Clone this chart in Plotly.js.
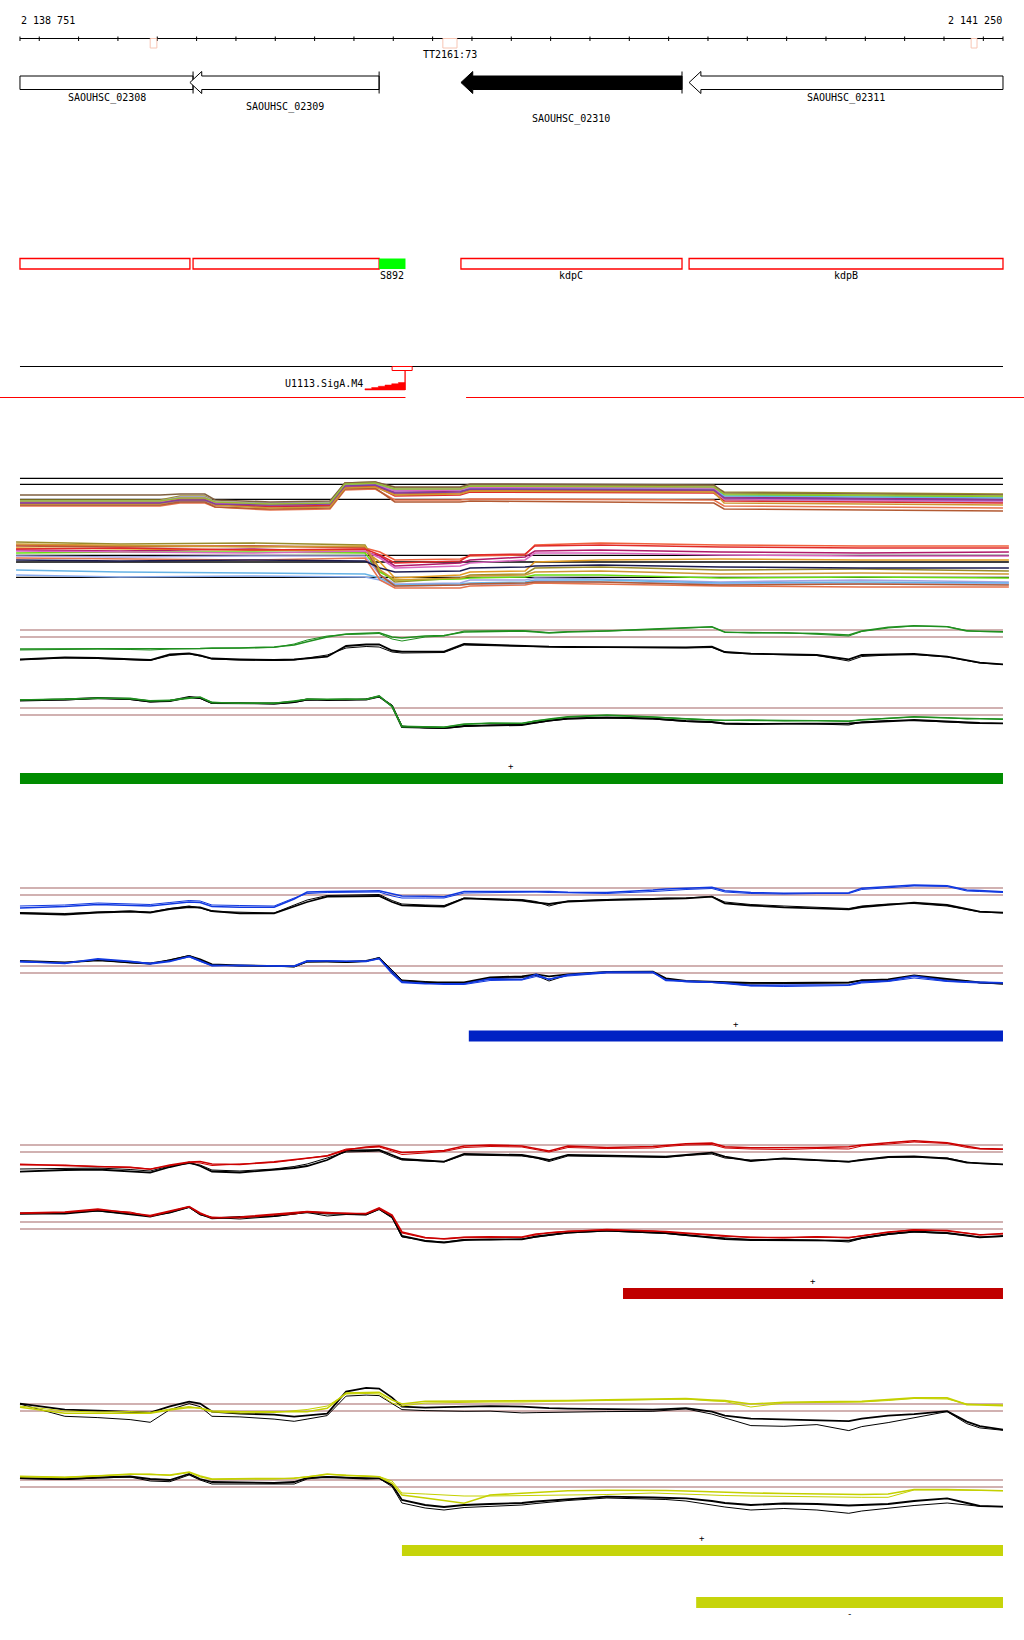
<!DOCTYPE html>
<html><head><meta charset="utf-8">
<script src="https://cdn.plot.ly/plotly-3.0.1.min.js"></script>
<style>html,body{margin:0;padding:0;background:#fff}#chart{width:1024px;height:1640px}</style>
</head><body><div id="chart"></div>
<script>
// ---------------- DATA ----------------
const viewStart = 2138751, viewEnd = 2141250;
const geneNames = ['SAOUHSC_02308','SAOUHSC_02309','SAOUHSC_02310','SAOUHSC_02311'];
const geneStart = [2138620, 2139183, 2139872, 2140452];
const geneEnd   = [2139191, 2139664, 2140434, 2141420];
const geneSelected = [false, false, true, false];
const termStart = [2139082, 2139826, 2141169];
const termEnd   = [2139099, 2139862, 2141184];
const termNames = ['', 'TT2161:73', ''];
const featNames = ['', '', 'S892', 'kdpC', 'kdpB'];
const featStart = [2138751, 2139191, 2139664, 2139872, 2140452];
const featEnd   = [2139183, 2139664, 2139731, 2140434, 2141250];
const featKind  = ['cds', 'cds', 'srna', 'cds', 'cds'];
const promoterName = 'U1113.SigA.M4';
const promoterStart = 2139628, promoterTss = 2139730, promoterBoxStart = 2139697, promoterBoxEnd = 2139748;
const transcriptStart = [2138600, 2139885];
const transcriptEnd   = [2139731, 2141400];

// expression cloud (all conditions), values in log2 units
const upperKnots = [2138751,2139107,2139158,2139221,2139247,2139387,2139539,2139577,2139654,2139704,2139870,2139895,2140515,2140541,2141250];
const upperCloud = [
 [2.0,2.0,2.4,2.4,1.8,1.6,1.7,3.7,3.8,3.2,3.2,3.5,3.4,2.8,2.6],
 [1.7,1.7,2.0,2.0,1.6,1.4,1.5,3.3,3.4,2.6,2.7,3.0,2.9,2.2,2.0],
 [1.8,1.8,2.1,2.1,1.7,1.5,1.6,3.5,3.6,3.0,3.0,3.3,3.2,2.5,2.3],
 [1.6,1.6,1.9,1.9,1.5,1.3,1.4,3.2,3.3,2.8,2.9,3.1,3.0,2.3,2.1],
 [1.5,1.5,1.8,1.8,1.7,1.6,1.7,3.4,3.5,2.9,3.0,3.2,3.1,2.4,2.2],
 [1.9,1.9,2.3,2.3,1.8,1.7,1.8,3.6,3.7,3.1,3.1,3.4,3.3,2.0,1.8],
 [1.4,1.4,1.7,1.7,1.3,1.0,1.1,3.0,3.1,2.0,2.0,2.1,2.0,1.4,1.2],
 [1.5,1.5,1.8,1.8,1.3,1.1,1.2,3.1,3.2,1.8,1.8,1.9,1.7,1.1,0.9],
 [1.7,1.7,2.1,2.1,1.6,1.4,1.5,3.3,3.4,2.4,2.5,2.8,2.7,1.9,1.7],
 [1.8,1.8,2.2,2.2,1.7,1.5,1.6,3.4,3.5,2.9,3.0,3.3,3.2,2.1,1.9],
 [2.5,2.5,2.6,2.6,2.0,1.8,1.9,3.7,3.8,3.3,3.3,3.6,3.5,2.7,2.5],
 [1.6,1.6,2.0,2.0,1.5,1.2,1.3,3.2,3.3,2.5,2.6,2.9,2.8,1.7,1.5],
 [1.7,1.7,2.0,2.0,1.6,1.5,1.6,3.4,3.5,2.7,2.8,3.1,3.0,2.2,2.0],
 [1.9,1.9,2.2,2.2,1.8,1.6,1.7,3.6,3.7,3.1,3.1,3.4,3.3,2.6,2.4]
];
const upperCloudRefs = [4.17, 3.57, 2.07];
const lowerKnots = [2138741,2139005,2139336,2139628,2139666,2139704,2139870,2139895,2140035,2140060,2140226,2140531,2140886,2141265];
const lowerCloud = [
 [5.5,5.4,5.4,5.2,4.8,4.0,4.1,4.4,4.5,5.5,5.7,5.5,5.4,5.4],
 [5.0,4.9,5.1,4.8,4.4,3.4,3.7,4.0,4.3,4.9,5.0,4.8,4.7,4.8],
 [5.2,5.1,5.0,4.9,3.8,2.2,2.5,2.8,2.9,3.8,4.0,4.1,4.0,4.0],
 [5.8,5.6,5.7,5.5,3.0,1.8,2.2,2.5,2.6,3.2,3.3,3.0,3.1,2.9],
 [4.7,4.8,4.8,4.7,2.8,2.0,2.1,2.2,2.3,2.5,2.5,2.2,2.3,2.2],
 [4.4,4.3,4.4,4.4,2.5,1.6,1.7,2.0,2.0,2.2,2.1,1.8,2.0,1.8],
 [3.0,2.8,2.7,2.6,2.2,1.5,1.6,1.7,1.8,2.0,2.0,1.7,1.8,1.7],
 [2.5,2.3,2.4,2.3,2.0,1.4,1.5,1.6,1.6,1.9,1.8,1.6,1.6,1.6],
 [4.2,4.1,4.0,4.2,2.0,1.2,1.2,1.4,1.5,1.7,1.6,1.4,1.3,1.3],
 [5.4,5.3,5.4,5.3,2.5,1.4,1.5,1.6,1.7,1.8,1.8,1.5,1.6,1.5],
 [4.9,4.8,4.7,4.9,4.2,3.2,3.4,3.7,4.0,4.7,4.7,4.5,4.4,4.4],
 [4.0,3.9,4.0,3.9,3.2,2.8,2.9,3.2,3.3,3.4,3.5,3.3,3.2,3.2],
 [5.6,5.5,5.3,5.4,3.0,2.0,2.2,2.4,2.5,2.8,2.9,2.6,2.7,2.6],
 [5.1,5.2,5.0,5.1,4.5,3.7,3.9,4.5,4.6,5.4,5.5,5.3,5.2,5.2]
];
const lowerCloudRefs = [4.47, 3.8, 2.27];

// per-condition tiling signal (two replicates of condition + two of control)
const condKnots = [2138751,2138865,2138949,2139031,2139082,2139132,2139181,2139209,2139239,2139310,2139397,2139448,2139481,2139532,2139580,2139631,2139664,2139697,2139722,2139781,2139829,2139880,2139946,2140027,2140063,2140096,2140144,2140243,2140360,2140393,2140444,2140510,2140543,2140609,2140693,2140777,2140858,2140891,2140958,2141024,2141108,2141158,2141191,2141250];
const thresholds = [4.0, 3.3];

const greenTopCond1 = [2.1,2.1,2.1,2.1,2.1,2.1,2.15,2.15,2.2,2.2,2.3,2.5,2.83,3.3,3.6,3.7,3.73,3.3,3.2,3.4,3.45,3.8,3.85,3.9,3.8,3.7,3.8,3.9,4.1,4.15,4.27,4.33,3.77,3.75,3.73,3.65,3.5,3.9,4.27,4.43,4.33,3.9,3.87,3.83];
const greenTopCond2 = [2.0,2.05,2.1,2.05,2.0,2.1,2.1,2.1,2.15,2.2,2.25,2.6,3.0,3.4,3.55,3.6,3.65,3.1,2.9,3.3,3.4,3.9,3.9,3.95,3.85,3.75,3.85,3.9,4.05,4.1,4.2,4.3,3.8,3.7,3.75,3.6,3.4,3.85,4.2,4.4,4.35,3.95,3.85,3.8];
const greenTopCtrl1 = [1.07,1.27,1.2,1.1,1.0,1.55,1.67,1.45,1.15,1.05,1.0,1.05,1.15,1.33,2.4,2.55,2.55,1.95,1.83,1.83,1.83,2.6,2.5,2.38,2.34,2.33,2.32,2.3,2.28,2.27,2.27,2.33,1.8,1.63,1.57,1.5,1.07,1.5,1.55,1.6,1.33,1.0,0.73,0.57];
const greenTopCtrl2 = [1.0,1.2,1.15,1.05,0.95,1.45,1.6,1.4,1.1,1.0,0.95,1.0,1.2,1.5,2.2,2.35,2.3,1.8,1.7,1.75,1.75,2.5,2.45,2.35,2.3,2.3,2.25,2.25,2.2,2.2,2.2,2.25,1.75,1.6,1.55,1.45,0.9,1.35,1.5,1.55,1.3,0.95,0.7,0.55];
const greenBotCond1 = [4.8,4.9,4.97,4.97,4.7,4.75,5.0,5.1,4.53,4.5,4.48,4.7,4.87,4.87,4.87,4.87,5.2,4.13,2.13,2.1,2.07,2.4,2.47,2.47,2.7,2.9,3.13,3.3,3.1,3.0,2.9,2.8,2.8,2.77,2.75,2.72,2.7,2.8,2.95,3.13,3.0,2.95,2.9,2.87];
const greenBotCond2 = [4.85,4.85,5.0,4.9,4.75,4.8,5.05,5.05,4.6,4.45,4.5,4.65,4.9,4.85,4.9,4.85,5.15,4.25,2.2,2.15,2.1,2.35,2.5,2.45,2.75,2.85,3.1,3.25,3.15,3.05,2.95,2.85,2.75,2.8,2.7,2.75,2.65,2.85,3.0,3.1,3.05,2.9,2.95,2.9];
const greenBotCtrl1 = [4.75,4.85,5.0,4.9,4.65,4.7,5.1,5.0,4.5,4.45,4.45,4.6,4.85,4.8,4.85,4.85,5.15,4.2,2.1,2.05,2.0,2.2,2.25,2.3,2.55,2.75,2.95,3.05,2.95,2.85,2.7,2.6,2.45,2.4,2.4,2.45,2.45,2.55,2.7,2.8,2.65,2.55,2.5,2.47];
const greenBotCtrl2 = [4.8,4.8,4.95,4.85,4.6,4.7,5.05,4.95,4.45,4.5,4.4,4.55,4.8,4.85,4.8,4.9,5.1,4.3,2.2,2.0,1.95,2.15,2.3,2.35,2.5,2.7,2.9,3.0,2.9,2.8,2.65,2.55,2.4,2.35,2.45,2.4,2.3,2.6,2.75,2.75,2.6,2.5,2.45,2.45];

const blueTopCond1 = [2.0,2.15,2.35,2.3,2.2,2.4,2.6,2.55,2.15,2.07,2.07,2.9,3.6,3.65,3.65,3.7,3.73,3.4,3.2,3.17,3.13,3.65,3.67,3.7,3.7,3.65,3.57,3.55,3.8,3.9,3.97,4.07,3.73,3.55,3.48,3.5,3.53,3.97,4.15,4.3,4.23,3.8,3.74,3.63];
const blueTopCond2 = [2.2,2.3,2.5,2.45,2.35,2.55,2.75,2.7,2.3,2.25,2.2,3.0,3.45,3.55,3.55,3.6,3.6,3.2,3.0,3.0,3.0,3.5,3.55,3.6,3.6,3.55,3.5,3.45,3.65,3.75,3.85,3.95,3.6,3.45,3.4,3.45,3.45,3.85,4.05,4.2,4.15,3.7,3.65,3.55];
const blueTopCtrl1 = [1.47,1.35,1.55,1.65,1.53,1.9,2.1,2.05,1.7,1.47,1.47,2.15,2.6,3.13,3.15,3.18,3.2,2.6,2.27,2.2,2.13,2.97,2.9,2.75,2.55,2.4,2.65,2.8,2.9,2.94,2.97,3.13,2.47,2.25,2.07,1.97,1.87,2.1,2.3,2.53,2.3,1.9,1.63,1.53];
const blueTopCtrl2 = [1.55,1.45,1.6,1.7,1.6,1.95,2.2,2.0,1.65,1.55,1.5,2.3,2.8,3.25,3.3,3.3,3.35,2.75,2.4,2.3,2.25,3.0,2.95,2.85,2.65,2.2,2.7,2.85,2.95,3.0,3.0,3.15,2.6,2.35,2.2,2.05,1.95,2.2,2.4,2.45,2.2,1.85,1.6,1.5];
const blueBotCond1 = [4.46,4.26,4.73,4.46,4.21,4.46,4.96,4.51,4.06,4.03,4.01,3.99,4.53,4.51,4.48,4.46,4.76,3.26,2.36,2.23,2.23,2.23,2.71,2.66,3.16,2.66,3.11,3.39,3.39,2.56,2.49,2.41,2.33,2.06,2.08,2.1,2.13,2.41,2.51,2.99,2.51,2.43,2.38,2.33];
const blueBotCond2 = [4.4,4.3,4.65,4.4,4.3,4.5,4.9,4.45,4.0,4.1,4.05,3.95,4.45,4.55,4.45,4.5,4.7,3.5,2.45,2.3,2.15,2.15,2.55,2.6,2.95,2.7,3.0,3.3,3.3,2.65,2.4,2.35,2.25,2.0,1.95,2.0,2.05,2.3,2.45,2.8,2.45,2.35,2.3,2.3];
const blueBotCtrl1 = [4.51,4.36,4.56,4.36,4.26,4.56,5.01,4.66,4.16,4.06,3.96,3.96,4.46,4.41,4.41,4.51,4.81,3.46,2.51,2.36,2.36,2.36,2.86,2.96,3.16,2.96,3.16,3.41,3.43,2.76,2.51,2.41,2.36,2.31,2.31,2.36,2.36,2.56,2.66,3.06,2.71,2.56,2.36,2.23];
const blueBotCtrl2 = [4.45,4.3,4.6,4.3,4.2,4.6,5.05,4.6,4.1,4.0,4.0,3.9,4.4,4.45,4.35,4.45,4.85,3.6,2.6,2.45,2.3,2.3,2.75,2.85,3.05,2.5,3.1,3.35,3.38,2.7,2.45,2.35,2.3,2.2,2.25,2.3,2.3,2.6,2.55,3.0,2.6,2.5,2.3,2.2];

const redTopCond1 = [2.07,1.95,1.9,1.75,1.57,2.0,2.3,2.35,2.1,2.05,2.33,2.55,2.7,2.9,3.5,3.8,3.9,3.55,3.25,3.35,3.45,3.9,4.0,3.9,3.65,3.4,3.9,3.75,3.85,3.95,4.13,4.2,3.83,3.72,3.71,3.75,3.83,4.0,4.23,4.43,4.23,3.85,3.65,3.6];
const redTopCond2 = [2.0,2.0,1.85,1.8,1.6,1.95,2.25,2.2,1.95,2.1,2.25,2.5,2.65,2.95,3.6,3.7,3.8,3.4,3.05,3.2,3.35,3.75,3.85,3.8,3.5,3.3,3.75,3.65,3.7,3.85,4.0,4.05,3.7,3.6,3.55,3.65,3.6,3.9,4.1,4.3,4.15,3.75,3.6,3.55];
const redTopCtrl1 = [1.33,1.5,1.55,1.35,1.23,1.8,2.25,1.9,1.35,1.25,1.5,1.7,1.9,2.5,3.43,3.47,3.5,3.0,2.6,2.45,2.33,3.1,3.05,3.0,2.75,2.5,3.0,2.93,2.87,2.83,3.0,3.23,2.83,2.4,2.67,2.5,2.33,2.5,2.8,2.85,2.65,2.23,2.16,2.07];
const redTopCtrl2 = [1.6,1.65,1.7,1.55,1.4,1.9,2.15,2.0,1.5,1.4,1.6,1.85,2.1,2.7,3.3,3.35,3.4,2.85,2.5,2.4,2.3,3.0,2.95,2.9,2.7,2.35,2.9,2.85,2.8,2.75,2.95,3.1,2.7,2.5,2.6,2.45,2.3,2.55,2.75,2.8,2.7,2.3,2.15,2.05];
const redBotCond1 = [4.9,5.0,5.3,4.9,4.65,5.1,5.55,4.9,4.4,4.5,4.75,4.9,5.05,4.95,4.85,4.85,5.4,4.7,3.0,2.45,2.3,2.45,2.5,2.5,2.8,2.9,3.05,3.25,3.15,3.05,2.9,2.7,2.6,2.45,2.45,2.5,2.45,2.6,3.0,3.2,3.15,2.9,2.7,2.85];
const redBotCond2 = [4.85,4.95,5.2,5.0,4.55,5.0,5.5,4.8,4.5,4.4,4.7,4.8,5.0,4.85,4.9,4.8,5.3,4.6,2.9,2.4,2.35,2.5,2.55,2.45,2.75,2.95,3.1,3.2,3.1,3.0,2.85,2.65,2.55,2.5,2.4,2.55,2.4,2.65,2.95,3.25,3.1,2.85,2.75,2.8];
const redBotCtrl1 = [4.85,4.85,5.15,4.8,4.53,5.0,5.5,4.8,4.37,4.5,4.6,4.85,5.0,4.85,4.8,4.77,5.3,4.53,2.6,2.1,1.93,2.2,2.27,2.27,2.55,2.7,2.93,3.15,3.0,2.9,2.7,2.4,2.3,2.2,2.17,2.15,2.13,2.4,2.8,3.05,2.9,2.65,2.47,2.6];
const redBotCtrl2 = [4.8,4.9,5.1,4.75,4.6,4.9,5.45,4.7,4.45,4.3,4.55,4.8,4.95,4.6,4.75,4.7,5.25,4.4,2.5,2.15,2.0,2.25,2.2,2.3,2.5,2.65,2.9,3.1,2.95,2.85,2.65,2.5,2.35,2.25,2.25,2.2,2.0,2.35,2.75,3.0,2.85,2.6,2.5,2.55];

const yellowTopCond1 = [3.67,3.07,3.07,3.07,3.07,3.4,3.65,3.6,3.3,3.23,3.23,3.23,3.23,3.57,5.09,5.14,5.16,4.4,4.0,4.27,4.27,4.27,4.27,4.27,4.29,4.31,4.34,4.41,4.49,4.51,4.54,4.39,4.34,4.0,4.17,4.21,4.24,4.26,4.44,4.61,4.61,3.94,3.91,3.84];
const yellowTopCond2 = [3.8,3.3,3.2,3.25,3.15,3.5,3.75,3.55,3.2,3.1,3.15,3.3,3.45,3.8,5.0,5.05,5.0,4.1,3.8,4.1,4.15,4.2,4.2,4.2,4.25,4.25,4.3,4.35,4.4,4.45,4.5,4.3,4.25,3.7,4.1,4.15,4.15,4.2,4.35,4.55,4.5,4.0,3.95,3.9];
const yellowTopCtrl1 = [4.04,3.44,3.34,3.24,3.14,3.77,4.24,4.04,3.24,3.04,2.94,2.74,2.84,3.04,5.24,5.61,5.54,4.64,3.74,3.64,3.69,3.74,3.79,3.74,3.64,3.59,3.54,3.49,3.44,3.49,3.59,3.24,2.84,2.54,2.44,2.39,2.29,2.54,2.84,2.99,3.29,2.24,1.79,1.44];
const yellowTopCtrl2 = [3.99,2.77,2.64,2.44,2.17,3.44,4.04,3.74,2.77,2.71,2.49,2.27,2.49,2.84,4.79,4.89,4.84,4.04,3.44,3.34,3.29,3.27,3.29,3.11,3.14,3.17,3.19,3.24,3.27,3.34,3.51,2.99,2.59,1.84,1.77,1.94,1.34,1.74,2.14,2.61,3.24,2.04,1.61,1.37];
const yellowBotCond1 = [4.33,4.25,4.4,4.6,4.55,4.5,4.8,4.4,4.1,4.12,4.15,4.18,4.3,4.6,4.45,4.37,4.33,3.67,2.5,2.2,1.95,1.67,2.5,2.7,2.77,2.82,2.93,2.97,3.0,2.95,2.9,2.8,2.75,2.7,2.65,2.6,2.6,2.55,2.6,3.05,3.05,3.0,2.95,2.93];
const yellowBotCond2 = [4.4,4.3,4.45,4.55,4.6,4.45,4.75,4.3,4.05,4.1,4.1,4.2,4.35,4.55,4.5,4.4,4.35,3.9,2.7,2.6,2.5,2.4,2.4,2.45,2.45,2.5,2.5,2.55,2.7,2.65,2.6,2.5,2.45,2.4,2.35,2.3,2.27,2.27,2.27,3.0,3.0,2.97,2.95,2.93];
const yellowBotCtrl1 = [4.2,4.1,4.25,4.35,4.1,4.0,4.6,4.1,3.8,3.75,3.7,3.8,4.2,4.3,4.2,4.15,4.17,3.5,2.0,1.5,1.3,1.5,1.6,1.7,1.85,1.95,2.05,2.33,2.25,2.22,2.17,1.9,1.7,1.5,1.65,1.6,1.45,1.5,1.6,1.9,2.17,1.7,1.4,1.33];
const yellowBotCtrl2 = [4.15,4.05,4.2,4.3,3.9,3.83,4.5,4.0,3.6,3.6,3.6,3.6,4.1,4.33,4.25,4.2,4.17,3.33,1.7,1.2,1.0,1.25,1.33,1.5,1.65,1.8,1.95,2.2,2.1,2.05,1.9,1.5,1.3,1.0,1.15,1.0,0.67,0.9,1.2,1.45,1.7,1.5,1.37,1.33];

// transcribed segments per condition
const segStart  = [2138751, 2139892, 2140284, 2139722, 2140470];
const segEnd    = [2141250, 2141250, 2141250, 2141250, 2141250];
const segStrand = ['+', '+', '+', '+', '-'];

// ---------------- STYLE / LAYOUT ----------------
const H = 1640, W = 1024;
const X0 = 2138700.2, X1 = 2141303.4;
const P = py => 1 - py / H;
const cx = x => Math.max(X0, Math.min(X1, x));
const mono = 'DejaVu Sans Mono, Liberation Mono, monospace';
const shapes = [], annotations = [], traces = [];
const RED = '#ff0000', BROWN = '#a36464';

function txt(x, py, text, anchor, size) {
  annotations.push({x: x, y: P(py + 1), xref: 'x', yref: 'paper', text: text, showarrow: false,
    xanchor: anchor || 'center', yanchor: 'middle', borderpad: 0,
    font: {family: mono, size: size || 10, color: '#000'}});
}
function hline(xa, xb, py, color, w, layer) {
  shapes.push({type: 'line', xref: 'x', yref: 'paper', x0: cx(xa), x1: cx(xb), y0: P(py), y1: P(py),
    line: {color: color, width: w || 1}, layer: layer || 'above'});
}
function vline(x, pa, pb, color, w) {
  shapes.push({type: 'line', xref: 'x', yref: 'paper', x0: x, x1: x, y0: P(pa), y1: P(pb), line: {color: color, width: w || 1}});
}
function rect(xa, xb, pa, pb, lc, fill, w) {
  shapes.push({type: 'rect', xref: 'x', yref: 'paper', x0: cx(xa), x1: cx(xb), y0: P(pb), y1: P(pa),
    line: {color: lc, width: w}, fillcolor: fill});
}
const fmt = n => String(n).replace(/\B(?=(\d{3})+(?!\d))/g, ' ');

// ruler
hline(viewStart, viewEnd, 38.5, '#000', 1);
const ticks = [viewStart];
for (let t = Math.ceil(viewStart / 100) * 100; t < viewEnd; t += 100) ticks.push(t);
ticks.push(viewEnd);
ticks.forEach(t => vline(t, 36.5, 41, '#000', 1));
termStart.forEach((s, i) => {
  rect(s, termEnd[i], 38.5, 48, '#f7c6b4', 'rgba(0,0,0,0)', 1);
  if (termNames[i]) txt((s + termEnd[i]) / 2, 53, termNames[i]);
});
txt(viewStart, 19.5, fmt(viewStart), 'left');
txt(viewEnd, 19.5, fmt(viewEnd), 'right');

// genes (all on minus strand here: arrow tip at start)
const headBp = 30;
const labelRowY = [97, 105.5, 118, 97];
geneNames.forEach((name, i) => {
  const s = geneStart[i], e = geneEnd[i];
  const eC = Math.min(e, viewEnd);
  const fill = geneSelected[i] ? '#000' : '#fff';
  if (s >= viewStart) {
    const b = s + headBp;
    const path = `M ${s},${P(82.5)} L ${b},${P(71.5)} L ${b},${P(76)} L ${eC},${P(76)} L ${eC},${P(89.5)} L ${b},${P(89.5)} L ${b},${P(93.5)} Z`;
    shapes.push({type: 'path', xref: 'x', yref: 'paper', path: path, fillcolor: fill, line: {color: '#000', width: 1}});
  } else {
    rect(viewStart, eC, 76, 89.5, '#000', fill, 1);
  }
  if (e <= viewEnd) vline(e, 71.5, 93.5, '#000', 1);
  txt((Math.max(s, viewStart) + eC) / 2, labelRowY[i], name);
});

// annotated features
featNames.forEach((n, i) => {
  if (featKind[i] === 'srna') rect(featStart[i], featEnd[i], 258.5, 269, 'rgba(0,0,0,0)', '#00ff00', 0);
  else rect(featStart[i], featEnd[i], 258.5, 269, RED, 'rgba(0,0,0,0)', 1.3);
  if (n) txt((featStart[i] + featEnd[i]) / 2, 274.5, n);
});

// promoter track
hline(viewStart, viewEnd, 366.5, '#000', 1.2);
rect(promoterBoxStart, promoterBoxEnd, 366.5, 370.5, RED, 'rgba(0,0,0,0)', 1);
vline(promoterTss, 370.5, 390, RED, 1.3);
(function () {
  const steps = 6, span = promoterTss - promoterStart;
  let d = `M ${promoterStart},${P(390)}`;
  for (let k = 0; k < steps; k++) {
    const xa = promoterStart + span * k / steps, xb = promoterStart + span * (k + 1) / steps;
    const h = 390 - (k + 1) * 1.25;
    d += ` L ${xa},${P(h)} L ${xb},${P(h)}`;
  }
  d += ` L ${promoterTss},${P(390)} Z`;
  shapes.push({type: 'path', xref: 'x', yref: 'paper', path: d, fillcolor: RED, line: {color: RED, width: 0.5}});
})();
txt(promoterStart - 2, 382.5, promoterName, 'right');
transcriptStart.forEach((s, i) => hline(s, transcriptEnd[i], 397.5, RED, 1.2));

// axes
const layout = {
  width: W, height: H, margin: {l: 0, r: 0, t: 0, b: 0}, autosize: false,
  paper_bgcolor: '#fff', plot_bgcolor: 'rgba(0,0,0,0)', showlegend: false,
  xaxis: {range: [X0, X1], visible: false, fixedrange: true},
  yaxis: {domain: [0, 1], range: [0, 1], visible: false, fixedrange: true},
  shapes: shapes, annotations: annotations
};
function addAxis(n, B, rmin, rmax) {
  layout['yaxis' + n] = {anchor: 'x', domain: [P(B - 10 * rmin), P(B - 10 * rmax)], range: [rmin, rmax],
    visible: false, fixedrange: true, showgrid: false, zeroline: false};
}

// expression clouds
addAxis(2, 520, 0, 5.5);
addAxis(3, 600, 0, 6.5);
const upperColors = ['#9a8c2a','#d9632b','#66dd11','#b01a6a','#66b3e6','#a3a3e3','#e6734d','#b35a33','#e02a2a','#d966c0','#806040','#cc9933','#8040a0','#99bb33'];
const lowerColors = ['#f0603c','#b01a6a','#e09a20','#9a8c2a','#66dd11','#a3a3e3','#66b3e6','#88aaee','#e6734d','#b35a33','#d966c0','#1a1a50','#cc9933','#e02a2a'];
upperCloudRefs.forEach(v => shapes.push({type: 'line', xref: 'x', yref: 'y2', x0: viewStart, x1: viewEnd, y0: v, y1: v, line: {color: '#000', width: 1.3}, layer: 'below'}));
lowerCloudRefs.forEach(v => shapes.push({type: 'line', xref: 'x', yref: 'y3', x0: lowerKnots[0], x1: lowerKnots[lowerKnots.length - 1], y0: v, y1: v, line: {color: '#000', width: 1.3}, layer: 'below'}));
upperCloud.forEach((ys, i) => traces.push({type: 'scatter', mode: 'lines', x: upperKnots, y: ys, xaxis: 'x', yaxis: 'y2',
  line: {color: upperColors[i], width: 1.6}, hoverinfo: 'skip'}));
lowerCloud.forEach((ys, i) => traces.push({type: 'scatter', mode: 'lines', x: lowerKnots, y: ys, xaxis: 'x', yaxis: 'y3',
  line: {color: lowerColors[i], width: 1.6}, hoverinfo: 'skip'}));

// condition panels
const panels = [
  {ax: 4, B: 670,  col: '#1f8f1f', d: [greenTopCond1, greenTopCond2, greenTopCtrl1, greenTopCtrl2]},
  {ax: 5, B: 748,  col: '#1f8f1f', d: [greenBotCond1, greenBotCond2, greenBotCtrl1, greenBotCtrl2]},
  {ax: 6, B: 928,  col: '#1038e0', d: [blueTopCond1, blueTopCond2, blueTopCtrl1, blueTopCtrl2]},
  {ax: 7, B: 1006, col: '#1038e0', d: [blueBotCond1, blueBotCond2, blueBotCtrl1, blueBotCtrl2]},
  {ax: 8, B: 1185, col: '#cc0000', d: [redTopCond1, redTopCond2, redTopCtrl1, redTopCtrl2]},
  {ax: 9, B: 1262, col: '#cc0000', d: [redBotCond1, redBotCond2, redBotCtrl1, redBotCtrl2]},
  {ax: 10, B: 1444, col: '#c4d000', d: [yellowTopCond1, yellowTopCond2, yellowTopCtrl1, yellowTopCtrl2]},
  {ax: 11, B: 1520, col: '#c4d000', d: [yellowBotCond1, yellowBotCond2, yellowBotCtrl1, yellowBotCtrl2]}
];
panels.forEach(p => {
  addAxis(p.ax, p.B, -1, 6.5);
  const ya = 'y' + p.ax;
  thresholds.forEach(v => shapes.push({type: 'line', xref: 'x', yref: ya, x0: viewStart, x1: viewEnd, y0: v, y1: v,
    line: {color: BROWN, width: 1.2}, layer: 'below'}));
  const styles = [[p.col, 1.6], [p.col, 1], ['#000', 1.8], ['#000', 1]];
  [2, 3, 0, 1].forEach(k => traces.push({type: 'scatter', mode: 'lines', x: condKnots, y: p.d[k], xaxis: 'x', yaxis: ya,
    line: {color: styles[k][0], width: styles[k][1]}, hoverinfo: 'skip'}));
});

// transcribed-segment bars
const segColors = ['#008c00', '#0022c4', '#c00000', '#c6d40a', '#c6d40a'];
const segTop = [773, 1030.5, 1288, 1545, 1597];
segStart.forEach((s, i) => {
  rect(s, segEnd[i], segTop[i], segTop[i] + 11, 'rgba(0,0,0,0)', segColors[i], 0);
  const mid = (s + segEnd[i]) / 2;
  if (segStrand[i] === '+') txt(mid, segTop[i] - 8, '+', 'center', 9);
  else txt(mid, segTop[i] + 16, '-', 'center', 9);
});

Plotly.newPlot('chart', traces, layout, {staticPlot: true, displayModeBar: false});
</script></body></html>
